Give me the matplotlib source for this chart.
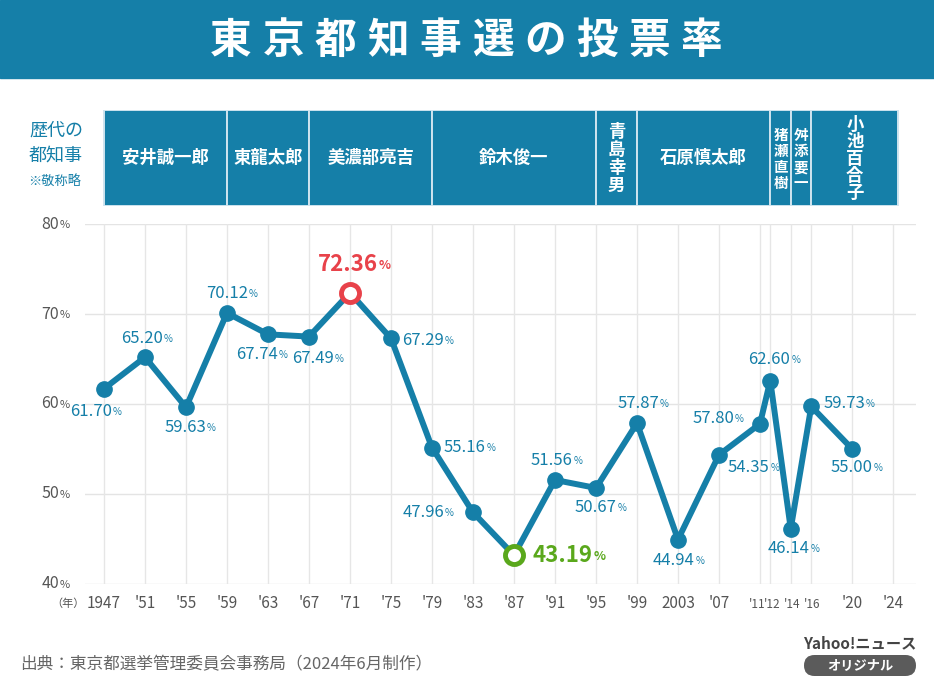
import matplotlib
matplotlib.use("Agg")
import matplotlib.pyplot as plt
from matplotlib.patches import Rectangle, FancyBboxPatch

plt.rcParams['font.family'] = ['Noto Sans CJK JP', 'DejaVu Sans']

# data
years = [1947, 1951, 1955, 1959, 1963, 1967, 1971, 1975, 1979, 1983, 1987,
         1991, 1995, 1999, 2003, 2007, 2011, 2012, 2014, 2016, 2020]
turnout = [61.70, 65.20, 59.63, 70.12, 67.74, 67.49, 72.36, 67.29, 55.16, 47.96, 43.19,
           51.56, 50.67, 57.87, 44.94, 54.35, 57.80, 62.60, 46.14, 59.73, 55.00]
tick_years = [1947, 1951, 1955, 1959, 1963, 1967, 1971, 1975, 1979, 1983, 1987, 1991,
              1995, 1999, 2003, 2007, 2011, 2012, 2014, 2016, 2020, 2024]
tick_labels = ['1947', "'51", "'55", "'59", "'63", "'67", "'71", "'75", "'79", "'83", "'87", "'91",
               "'95", "'99", '2003', "'07", "'11", "'12", "'14", "'16", "'20", "'24"]
y_ticks = [40, 50, 60, 70, 80]

governors = ['安井誠一郎', '東龍太郎', '美濃部亮吉', '鈴木俊一', '青島幸男',
             '石原慎太郎', '猪瀬直樹', '舛添要一', '小池百合子']
gov_start = [1947, 1959, 1967, 1979, 1995, 1999, 2012, 2014, 2016]
gov_end = [1959, 1967, 1979, 1995, 1999, 2012, 2014, 2016, 2024.5]

title = '東京都知事選の投票率'
source = '出典：東京都選挙管理委員会事務局（2024年6月制作）'

BLUE = '#157fa8'
RED = '#e8424a'
GREEN = '#5aa81c'
GRAY = '#555555'

W, H = 934, 689
fig = plt.figure(figsize=(W / 100, H / 100), dpi=100)

def fx(px):
    return px / W

def fy(py):
    return 1 - py / H

# title band
fig.patches.append(Rectangle((0, fy(78)), 1, 78 / H, transform=fig.transFigure,
                             color=BLUE, zorder=0))
for i, ch in enumerate(title):
    fig.text(fx(231 + i * 52.3), fy(41), ch, color='white', fontsize=30,
             fontweight='bold', ha='center', va='center')

# main chart
x0, x1 = 1947 + (85 - 104) / 10.25, 1947 + (916 - 104) / 10.25
ax = fig.add_axes([fx(85), fy(584), (916 - 85) / W, 360 / H])
ax.set_xlim(x0, x1)
ax.set_ylim(40, 80)
ax.axis('off')

for v in y_ticks:
    ax.axhline(v, color='#e4e4e4', lw=1, zorder=0)
for yr in tick_years:
    ax.plot([yr, yr], [40, 80], color='#e6e6e6', lw=1, zorder=0)

ax.plot(years, turnout, color=BLUE, lw=4.3, zorder=2, solid_joinstyle='round')
ax.plot(years, turnout, 'o', color=BLUE, ms=11, zorder=3)

imax = turnout.index(max(turnout))
imin = turnout.index(min(turnout))
ax.plot(years[imax], turnout[imax], 'o', ms=13, mfc='white', mec=RED, mew=3.5, zorder=4, clip_on=False)
ax.plot(years[imin], turnout[imin], 'o', ms=13, mfc='white', mec=GREEN, mew=3.5, zorder=4, clip_on=False)

# label placement (pixels offset, alignment)
label_pos = {
    1947: (-13, -23, 'center'), 1951: (-3, 19, 'center'), 1955: (-1, -20, 'center'),
    1959: (0, 19, 'center'), 1963: (-11, -20, 'center'), 1967: (4, -22, 'center'),
    1971: (-2, 28, 'center'), 1975: (11, -2, 'left'), 1979: (12, 0, 'left'),
    1983: (-22, 0, 'right'), 1987: (19, 0, 'left'), 1991: (-3, 19, 'center'),
    1995: (0, -20, 'center'), 1999: (1, 20, 'center'), 2003: (-4, -21, 'center'),
    2007: (9, -13, 'left'), 2011: (-19, 5, 'right'), 2012: (-1, 21, 'center'),
    2014: (-2, -20, 'center'), 2016: (12, 3, 'left'), 2020: (-1, -19, 'center'),
}
for i, (yr, v) in enumerate(zip(years, turnout)):
    dx, dy, ha = label_pos[yr]
    col, fs, fw, pfs = BLUE, 12, 'normal', 7
    if i == imax:
        col, fs, fw, pfs = RED, 16, 'bold', 9
    elif i == imin:
        col, fs, fw, pfs = GREEN, 16, 'bold', 9
    if ha == 'right':
        dx -= 7
    t = ax.annotate(f'{v:.2f}', (yr, v), xytext=(dx, dy), textcoords='offset pixels',
                    ha=ha, va='center', color=col, fontsize=fs, fontweight=fw, zorder=5,
                    annotation_clip=False)
    ax.annotate('%', (1, 0.18), xycoords=t, xytext=(1, 0), textcoords='offset pixels',
                ha='left', va='bottom', color=col, fontsize=pfs, fontweight=fw)

# x tick labels
nudge = {2011: -3, 2012: 2, 2014: 1, 2016: 1}
for yr, lb in zip(tick_years, tick_labels):
    fs = 8.5 if yr in nudge else 11
    ax.annotate(lb, (yr, 0), xycoords=('data', 'axes fraction'), xytext=(nudge.get(yr, 0), -20),
                textcoords='offset pixels', ha='center', va='center', color=GRAY,
                fontsize=fs, annotation_clip=False)
fig.text(fx(68), fy(604), '（年）', color=GRAY, fontsize=8, ha='center', va='center')

# y tick labels
for v in y_ticks:
    yy = fy(584 - (v - 40) * 9)
    fig.text(fx(59), yy, str(v), color=GRAY, fontsize=11.5, ha='right', va='center')
    fig.text(fx(60), yy - 0.002, '%', color=GRAY, fontsize=8, ha='left', va='center')

# governor band
bax = fig.add_axes([fx(85), fy(206), (916 - 85) / W, 96 / H])
bax.set_xlim(x0, x1)
bax.set_ylim(0, 96)
bax.axis('off')
vertical = {'青島幸男': (12.5, 17.7), '猪瀬直樹': (10.5, 16.3), '舛添要一': (10.5, 16.3),
            '小池百合子': (12.5, 16.8)}
for name, s, e in zip(governors, gov_start, gov_end):
    bax.add_patch(Rectangle((s, 0), e - s, 96, facecolor=BLUE, edgecolor='#cfe4ef', lw=1.4))
    xc = (s + e) / 2
    if name in vertical:
        fs, pitch = vertical[name]
        n = len(name)
        top = 47 + pitch * (n - 1) / 2
        for k, ch in enumerate(name):
            bax.text(xc, top - k * pitch, ch, color='white', fontsize=fs,
                     fontweight='bold', ha='center', va='center')
    else:
        bax.text(xc, 48, name, color='white', fontsize=12.5, fontweight='bold',
                 ha='center', va='center')

fig.text(fx(56), fy(131), '歴代の', color=BLUE, fontsize=13, ha='center', va='center')
fig.text(fx(56), fy(156), '都知事', color=BLUE, fontsize=13, ha='center', va='center')
fig.text(fx(55), fy(181), '※敬称略', color=BLUE, fontsize=9.5, ha='center', va='center')

# footer
fig.text(fx(20), fy(665), source, color='#666666', fontsize=12, ha='left', va='center')
fig.text(fx(916), fy(643), 'Yahoo!ニュース', color='#444444', fontsize=11,
         fontweight='bold', ha='right', va='center')
pax = fig.add_axes([fx(804), fy(676), 112 / W, 21 / H])
pax.set_xlim(0, 112)
pax.set_ylim(0, 21)
pax.axis('off')
pax.add_patch(FancyBboxPatch((0, 0), 112, 21, boxstyle='round,pad=0,rounding_size=10.5',
                             facecolor='#5b5b5b', edgecolor='none'))
pax.text(56, 10.5, 'オリジナル', color='white', fontsize=9.5, fontweight='bold',
         ha='center', va='center')

fig.savefig('out.png', dpi=100)
